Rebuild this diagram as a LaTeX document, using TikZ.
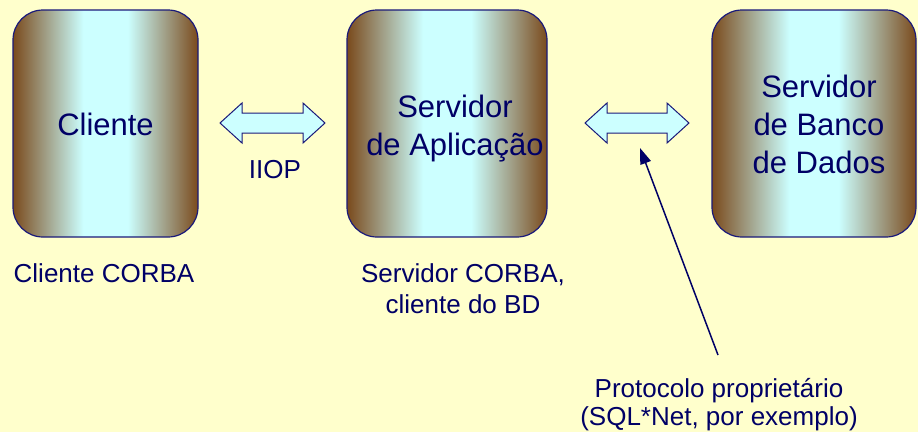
\documentclass[tikz,border=0pt]{standalone}
\usepackage{fontspec}
\setmainfont{Liberation Sans}
\usetikzlibrary{arrows.meta}
\definecolor{bg}{HTML}{FFFFCC}
\definecolor{ink}{HTML}{000066}
\definecolor{edge}{HTML}{1A1A7A}
\definecolor{brn}{HTML}{7A4A1C}
\definecolor{cy}{HTML}{CCFFFF}
% brown rims fading to a cyan band in the middle of each tier box
\pgfdeclarehorizontalshading{tiershade}{100bp}{color(0bp)=(brn); color(25bp)=(brn); color(44bp)=(cy); color(56bp)=(cy); color(75bp)=(brn); color(100bp)=(brn)}
\tikzset{
  tier/.style={draw=edge, line width=1.2pt, rounded corners=30pt, shade, shading=tiershade, minimum height=227pt, inner sep=0pt},
  big/.style={text=ink, font=\fontsize{31}{38}\selectfont, inner sep=0pt, align=center},
  lbl/.style={text=ink, font=\fontsize{26}{31}\selectfont, inner sep=0pt, align=center},
  dblarrow/.style={draw=edge, fill=cy, line width=1pt, line join=miter},
  pointer/.style={draw=ink, line width=1.5pt, -{Triangle[length=16pt,width=11pt]}},
  pics/twoway/.style={code={
    \draw[dblarrow] (0,0) -- (22,-20) -- (22,-10) -- (#1-22,-10) -- (#1-22,-20)
      -- (#1,0) -- (#1-22,20) -- (#1-22,10) -- (22,10) -- (22,20) -- cycle;}}
}
\begin{document}
\begin{tikzpicture}[x=1pt, y=-1pt]
  \fill[bg] (0,0) rectangle (918,432);
  \useasboundingbox (0,0) rectangle (918,432);

  % the three tiers
  \node[tier, minimum width=185pt] (cli) at (105.5,123.5) {};
  \node[tier, minimum width=200pt] (app) at (447,123.5) {};
  \node[tier, minimum width=204pt] (db)  at (814,123.5) {};

  % tier names (base anchor sits on the last line)
  \node[big, anchor=base] (tcli) at (105.5,135) {Cliente};
  \node[big, anchor=base] (tapp) at (455,155) {Servidor\\de Aplicação};
  \node[big, anchor=base] (tdb)  at (819,173) {Servidor\\de Banco\\de Dados};

  % two-way block arrows between the tiers
  \pic (iiopar) at (220,123) {twoway=105};
  \pic (sqlar)  at (585,123) {twoway=104};

  % captions
  \node[lbl, anchor=base] (iiop) at (275,178) {IIOP};
  \node[lbl, anchor=base] (ccorba) at (104,282) {Cliente CORBA};
  \node[lbl, anchor=base] (scorba) at (463,313) {Servidor CORBA,\\cliente do BD};
  \node[lbl, anchor=base, font=\fontsize{26}{28}\selectfont] (proto) at (719,425)
    {Protocolo proprietário\\(SQL*Net, por exemplo)};

  % pointer from the protocol caption to the second arrow
  \coordinate (ptail) at (718,355);
  \coordinate (ptip) at (640,148);
  \draw[pointer] (ptail) -- (ptip);
\end{tikzpicture}
\end{document}
